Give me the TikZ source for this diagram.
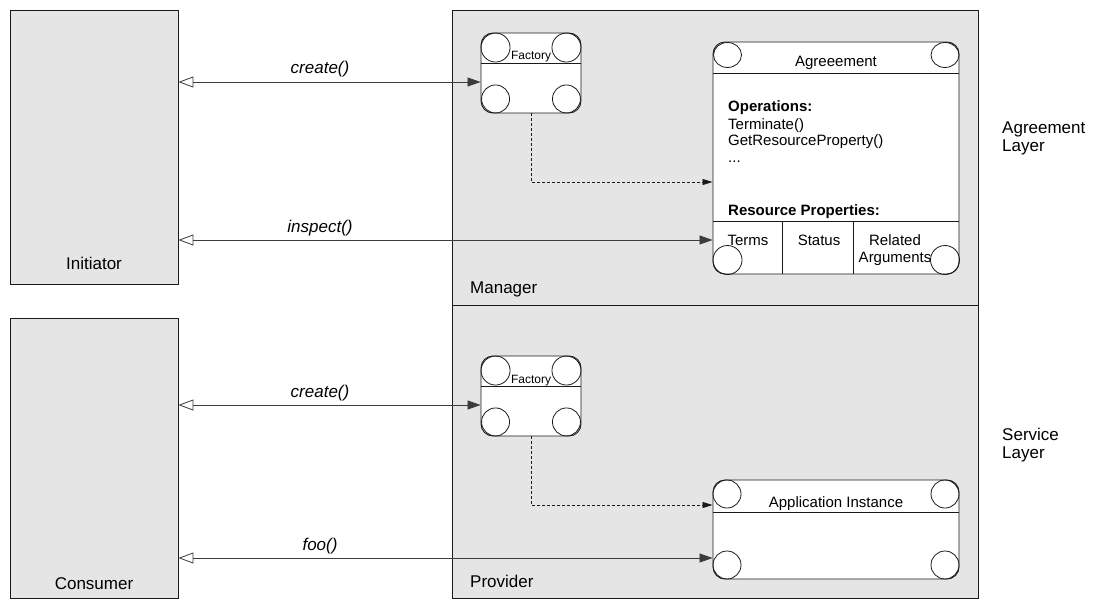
\documentclass[tikz,border=0pt]{standalone}
\usepackage{fontspec}
\setmainfont{Liberation Sans}
\usetikzlibrary{arrows.meta,calc}
\definecolor{panel}{HTML}{E5E5E5}
\definecolor{ink}{HTML}{1A1A1A}
\newcommand\fbig{\fontsize{17}{18}\selectfont}
\newcommand\fmid{\fontsize{15}{16}\selectfont}
\newcommand\fsmall{\fontsize{12}{13}\selectfont}
\begin{document}
\begin{tikzpicture}[x=1pt,y=-1pt,
  panelbox/.style={draw=ink, fill=panel, line width=0.9pt, inner sep=0pt},
  compbox/.style={draw=ink, fill=white, line width=0.9pt, rounded corners=12pt, inner sep=0pt},
  corner/.style={draw=ink, line width=0.8pt},
  rule/.style={draw=ink, line width=0.9pt},
  call/.style={draw=ink!85, line width=0.8pt,
    {Triangle[open,length=15pt,width=11pt]}-{Triangle[length=13pt,width=9pt]}},
  dep/.style={draw=ink, line width=0.7pt, dash pattern=on 3pt off 2pt,
    -{Triangle[length=10pt,width=6pt]}},
  big/.style={font=\fbig, inner sep=0pt},
  mid/.style={font=\fmid, inner sep=0pt},
  small/.style={font=\fsmall, inner sep=0pt},
  calllbl/.style={font=\fbig\itshape, inner sep=0pt, anchor=base}]
\useasboundingbox (0,0) rectangle (1094,599);

% client-side panels
\node[panelbox, minimum width=168pt, minimum height=274pt] (init) at (94,147) {};
\node[panelbox, minimum width=168pt, minimum height=280pt] (cons) at (94,458) {};
\node[big, anchor=base] (initlbl) at (94,269) {Initiator};
\node[big, anchor=base] (conslbl) at (94,589) {Consumer};

% server-side panels
\node[panelbox, minimum width=526pt, minimum height=295pt] (mgr) at (715,157.5) {};
\node[panelbox, minimum width=526pt, minimum height=293pt] (prov) at (715,451.5) {};
\node[big, anchor=base west] (mgrlbl) at (470,293) {Manager};
\node[big, anchor=base west] (provlbl) at (470,587) {Provider};

% layer captions
\node[big, anchor=west, align=left] (agrlayer) at (1002,138) {Agreement\\Layer};
\node[big, anchor=west, align=left] (svclayer) at (1002,445) {Service\\Layer};

% factories
\foreach \nm/\cy in {facA/73, facB/396} {
  \node[compbox, minimum width=100pt, minimum height=80pt] (\nm) at (531,\cy) {};
  \draw[rule] ($(\nm.north west)+(0,31)$) -- ($(\nm.north east)+(0,31)$);
  \draw[corner] ($(\nm.north west)+(15,15)$) circle[radius=14.5pt];
  \draw[corner] ($(\nm.north east)+(-15,15)$) circle[radius=14.5pt];
  \draw[corner] ($(\nm.south west)+(15,-14.5)$) circle[radius=14pt];
  \draw[corner] ($(\nm.south east)+(-15,-14.5)$) circle[radius=14pt];
}
\node[small, anchor=base] (facAlbl) at (531,60) {Factory};
\node[small, anchor=base] (facBlbl) at (531,383) {Factory};

% agreement resource
\node[compbox, minimum width=246pt, minimum height=232pt] (agr) at (836,158) {};
\draw[rule] (713,73) -- (959,73);
\draw[rule] (713,221) -- (959,221);
\draw[rule] (782,221) -- (782,274);
\draw[rule] (853,221) -- (853,274);
\draw[corner] (727.5,55) ellipse[x radius=14pt, y radius=12.5pt];
\draw[corner] (945,55) ellipse[x radius=14pt, y radius=12.5pt];
\draw[corner] (727.5,260) circle[radius=14.5pt];
\draw[corner] (945,260) circle[radius=14.5pt];
\node[mid, anchor=base] (agrlbl) at (836,67) {Agreeement};
\node[mid, anchor=base west, font=\fmid\bfseries] (ops) at (728,112) {Operations:};
\node[mid, anchor=base west] (op1) at (728,129) {Terminate()};
\node[mid, anchor=base west] (op2) at (728,145) {GetResourceProperty()};
\node[mid, anchor=base west] (op3) at (728,162) {...};
\node[mid, anchor=base west, font=\fmid\bfseries] (rp) at (728,215) {Resource Properties:};
\node[mid, anchor=base] (terms) at (748,245) {Terms};
\node[mid, anchor=base] (status) at (819,245) {Status};
\node[mid, anchor=base] (related) at (895,245) {Related};
\node[mid, anchor=base] (args) at (895,262) {Arguments};

% application instance
\node[compbox, minimum width=246pt, minimum height=99pt] (app) at (836,529.5) {};
\draw[rule] (713,512) -- (959,512);
\draw[corner] (727,494) circle[radius=14pt];
\draw[corner] (945,494) circle[radius=14pt];
\draw[corner] (727,565) circle[radius=14pt];
\draw[corner] (945,565) circle[radius=14pt];
\node[mid, anchor=base] (applbl) at (836,507) {Application Instance};

% calls between clients and services
\draw[call] (init.east |- 0,82) -- (facA.west |- 0,82);
\draw[call] (init.east |- 0,240) -- (agr.west |- 0,240);
\draw[call] (cons.east |- 0,405) -- (facB.west |- 0,405);
\draw[call] (cons.east |- 0,558) -- (app.west |- 0,558);
\node[calllbl] (c1) at (320,74) {create()};
\node[calllbl] (c2) at (320,232) {inspect()};
\node[calllbl] (c3) at (320,397) {create()};
\node[calllbl] (c4) at (320,550) {foo()};

% factories create the resources
\draw[dep] (facA.south) |- (agr.west |- 0,182);
\draw[dep] (facB.south) |- (app.west |- 0,505);
\end{tikzpicture}
\end{document}
